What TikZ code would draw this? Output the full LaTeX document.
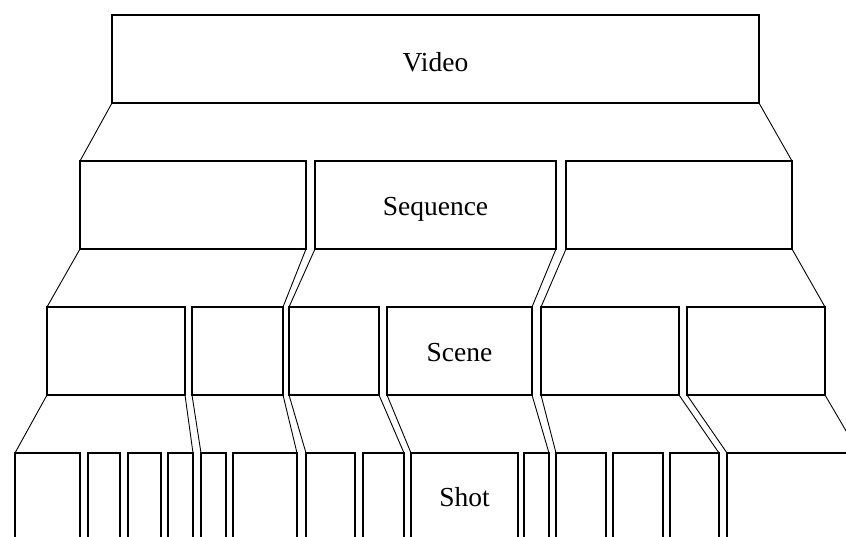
\documentclass[tikz,border=0pt]{standalone}
\usepackage{fontspec}
\setmainfont{Liberation Serif}
\begin{document}
\begin{tikzpicture}[x=1pt,y=-1pt,
  box/.style={draw, line width=2.8pt, inner sep=0pt, outer sep=0pt, minimum height=88pt},
  txt/.style={font=\fontsize{27.5}{33}\selectfont, inner sep=0pt},
  link/.style={line width=0.9pt}]
\useasboundingbox (0,0) rectangle (846,536);
\clip (0,0) rectangle (846,536);
% Video
\node[box, minimum width=647pt, label={[txt, yshift=-3pt]center:Video}] (v) at (435.5,59) {};
% Sequences
\node[box, minimum width=226pt] (s1) at (193,205) {};
\node[box, minimum width=241pt, label={[txt, yshift=-4pt]center:Sequence}] (s2) at (435.5,205) {};
\node[box, minimum width=226pt] (s3) at (679,205) {};
% Scenes
\node[box, minimum width=138pt] (c1) at (116,351) {};
\node[box, minimum width=91pt] (c2) at (237.5,351) {};
\node[box, minimum width=90pt] (c3) at (334,351) {};
\node[box, minimum width=145pt, label={[txt, yshift=-2pt]center:Scene}] (c4) at (459.5,351) {};
\node[box, minimum width=138pt] (c5) at (610,351) {};
\node[box, minimum width=138pt] (c6) at (756,351) {};
% Shots
\node[box, minimum width=65pt] (t1) at (47.5,497) {};
\node[box, minimum width=32pt] (t2) at (104,497) {};
\node[box, minimum width=33pt] (t3) at (144.5,497) {};
\node[box, minimum width=25pt] (t4) at (180.5,497) {};
\node[box, minimum width=25pt] (t5) at (213.5,497) {};
\node[box, minimum width=64pt] (t6) at (265,497) {};
\node[box, minimum width=49pt] (t7) at (330.5,497) {};
\node[box, minimum width=41pt] (t8) at (383.5,497) {};
\node[box, minimum width=107pt, label={[txt]center:Shot}] (t9) at (464.5,497) {};
\node[box, minimum width=25pt] (t10) at (536.5,497) {};
\node[box, minimum width=50pt] (t11) at (581,497) {};
\node[box, minimum width=50pt] (t12) at (638,497) {};
\node[box, minimum width=49pt] (t13) at (694.5,497) {};
\node[box, minimum width=132pt] (t14) at (793,497) {};
% Links video -> sequence
\draw[link] (v.south west) -- (s1.north west);
\draw[link] (v.south east) -- (s3.north east);
% Links sequence -> scene
\draw[link] (s1.south west) -- (c1.north west);
\draw[link] (s1.south east) -- (c2.north east);
\draw[link] (s2.south west) -- (c3.north west);
\draw[link] (s2.south east) -- (c4.north east);
\draw[link] (s3.south west) -- (c5.north west);
\draw[link] (s3.south east) -- (c6.north east);
% Links scene -> shot
\draw[link] (c1.south west) -- (t1.north west);
\draw[link] (c1.south east) -- (t4.north east);
\draw[link] (c2.south west) -- (t5.north west);
\draw[link] (c2.south east) -- (t6.north east);
\draw[link] (c3.south west) -- (t7.north west);
\draw[link] (c3.south east) -- (t8.north east);
\draw[link] (c4.south west) -- (t9.north west);
\draw[link] (c4.south east) -- (t10.north east);
\draw[link] (c5.south west) -- (t11.north west);
\draw[link] (c5.south east) -- (t13.north east);
\draw[link] (c6.south west) -- (t14.north west);
\draw[link] (c6.south east) -- (t14.north east);
\end{tikzpicture}
\end{document}
